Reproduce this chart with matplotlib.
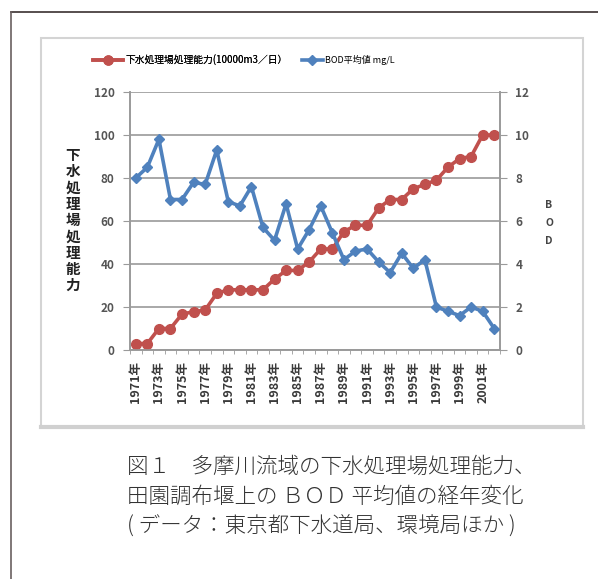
import matplotlib

matplotlib.use("Agg")
import matplotlib.pyplot as plt
from matplotlib.lines import Line2D
from matplotlib.patches import Rectangle

plt.rcParams["font.family"] = ["Noto Sans CJK JP", "DejaVu Sans"]

W, H = 598, 579

years = list(range(1971, 2003))
capacity = [3, 3, 10, 10, 16.7, 17.8, 18.6, 26.3, 28, 28, 28, 28, 33, 37, 37, 41,
            47, 47, 55, 58, 58, 66, 70, 70, 75, 77, 79, 85, 89, 90, 100, 100]
bod = [8.0, 8.5, 9.8, 7.0, 7.0, 7.8, 7.7, 9.3, 6.9, 6.7, 7.6, 5.7, 5.1, 6.8, 4.7, 5.6,
       6.7, 5.45, 4.2, 4.6, 4.7, 4.1, 3.6, 4.5, 3.8, 4.2, 2.0, 1.8, 1.6, 2.0, 1.8, 1.0]
year_labels = [f"{y}年" for y in years[::2]]
left_ticks = [0, 20, 40, 60, 80, 100, 120]
right_ticks = [0, 2, 4, 6, 8, 10, 12]

RED = "#C0504D"
BLUE = "#4F81BD"
GRID = "#9a9a9a"


def px(x0, y0, x1, y1):
    # pixel box (top-left origin) -> figure fraction rect
    return [x0 / W, 1 - y1 / H, (x1 - x0) / W, (y1 - y0) / H]


fig = plt.figure(figsize=(W / 100, H / 100), dpi=100)
fig.patch.set_facecolor("white")

# outer page frame (top and left edges)
fig.add_artist(Line2D([11 / W, 1], [1 - 12 / H, 1 - 12 / H], color="#3a3030", lw=1.2))
fig.add_artist(Line2D([11 / W, 11 / W], [0, 1 - 12 / H], color="#6a6060", lw=1.2))

# chart box, kept behind the axes
b = px(41, 38, 583, 427)
fig.add_artist(Rectangle((b[0], b[1]), b[2], b[3], transform=fig.transFigure,
                         facecolor="white", edgecolor="#d4d4d4", lw=1.5, zorder=-5))
fig.add_artist(Line2D([b[0], b[0] + b[2]], [b[1], b[1]], color="#d0d0d0", lw=3, zorder=-4))

ax = fig.add_axes(px(130, 92, 500, 350))
ax2 = ax.twinx()
ax.patch.set_alpha(0)
x = range(len(years))

ax.plot(x, capacity, color=RED, lw=2.6, marker="o", ms=7, mec=RED, mfc=RED, zorder=3)
ax2.plot(x, bod, color=BLUE, lw=2.6, marker="D", ms=5.5, mec=BLUE, mfc=BLUE, zorder=3)

ax.set_xlim(-0.5, len(years) - 0.5)
ax.set_ylim(0, 120)
ax2.set_ylim(0, 12)
ax.set_yticks(left_ticks)
ax2.set_yticks(right_ticks)
ax.yaxis.grid(True, color=GRID, lw=1.2)
ax.set_axisbelow(True)

ax.set_xticks(list(x)[::2])
ax.set_xticklabels(year_labels, rotation=90, fontsize=9, fontweight="bold", color="#3a3a3a")
ax.set_xticks([i - 0.5 for i in range(len(years) + 1)], minor=True)
ax.tick_params(axis="x", which="major", length=0, pad=8)
ax.tick_params(axis="x", which="minor", length=3, color=GRID)
tick_kw = dict(length=5, color=GRID, labelsize=8.5, labelcolor="#555555", pad=6)
ax.tick_params(axis="y", **tick_kw)
ax2.tick_params(axis="y", **tick_kw)
for lab in ax.get_yticklabels() + ax2.get_yticklabels():
    lab.set_fontweight("bold")

for a in (ax, ax2):
    a.spines["top"].set_visible(False)
    for s in ("left", "right", "bottom"):
        a.spines[s].set_color(GRID)
        a.spines[s].set_linewidth(1.2)

# stacked axis titles
fig.text(73 / W, 1 - 220 / H, "\n".join("下水処理場処理能力"), ha="center", va="center",
         fontsize=10.5, fontweight="bold", color="#222222", linespacing=1.02)
fig.text(549 / W, 1 - 223 / H, "\n".join("BOD"), ha="center", va="center",
         fontsize=7.5, fontweight="bold", color="#444444", linespacing=2.0)

# legend: one entry each so the two keys can have their own lengths
leg_red = fig.legend([Line2D([], [], color=RED, lw=2.6, marker="o", ms=6.5, mec=RED, mfc=RED)],
                     ["下水処理場処理能力(10000m3／日）"], loc="center left",
                     bbox_to_anchor=(93 / W, 1 - 60 / H), frameon=False, fontsize=7,
                     handlelength=3.1, handletextpad=0.2, borderpad=0, borderaxespad=0)
fig.legend([Line2D([], [], color=BLUE, lw=2.6, marker="D", ms=5, mec=BLUE, mfc=BLUE)],
           ["BOD平均値 mg/L"], loc="center left",
           bbox_to_anchor=(302 / W, 1 - 60 / H), frameon=False, fontsize=6.5,
           handlelength=2.3, handletextpad=0.2, borderpad=0, borderaxespad=0)
fig.add_artist(leg_red)

caption = ["図１　多摩川流域の下水処理場処理能力、",
           "田園調布堰上の ＢＯＤ 平均値の経年変化",
           "( データ：東京都下水道局、環境局ほか )"]
for i, line in enumerate(caption):
    fig.text(127 / W, 1 - (467 + 30 * i) / H, line, ha="left", va="center",
             fontsize=15.5, fontweight="light", color="#333333")

fig.savefig("out.png", dpi=100)
